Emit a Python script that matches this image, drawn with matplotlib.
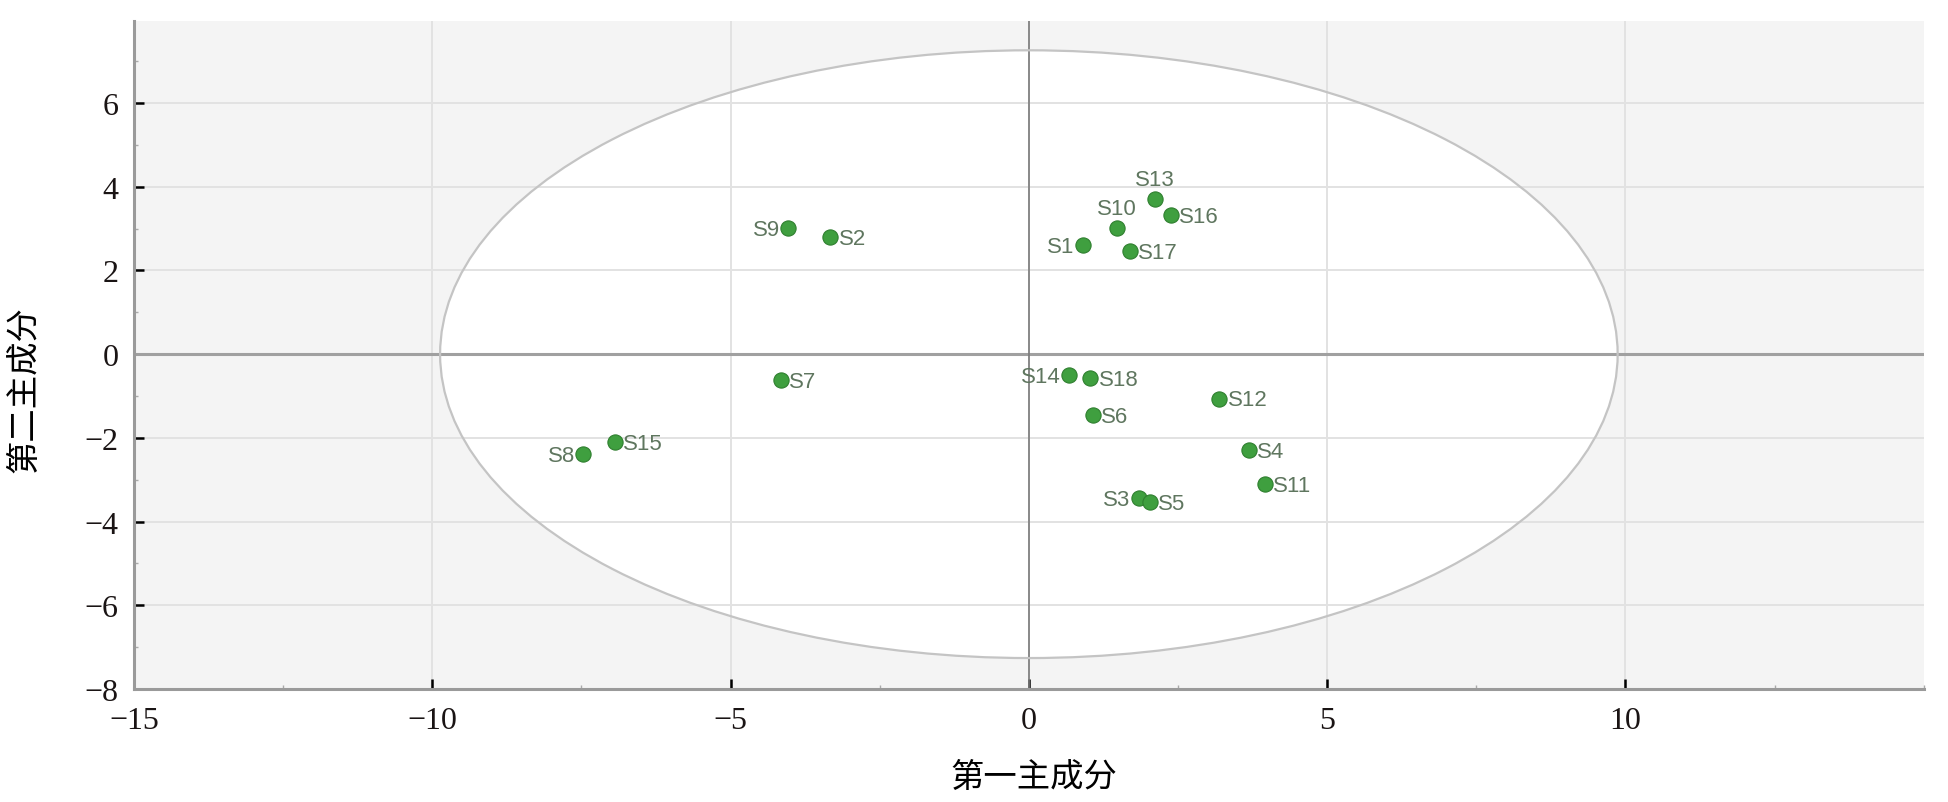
import matplotlib
matplotlib.use('Agg')
import matplotlib.pyplot as plt
from matplotlib.patches import Ellipse
from matplotlib.ticker import MultipleLocator

# sample scores on the first two principal components
names = ["S1", "S2", "S3", "S4", "S5", "S6", "S7", "S8", "S9",
         "S10", "S11", "S12", "S13", "S14", "S15", "S16", "S17", "S18"]
pc1 = [0.91, -3.33, 1.84, 3.69, 2.03, 1.07, -4.16, -7.47, -4.03,
       1.48, 3.95, 3.19, 2.12, 0.67, -6.94, 2.38, 1.69, 1.03]
pc2 = [2.60, 2.80, -3.44, -2.29, -3.54, -1.46, -0.62, -2.38, 3.02,
       3.02, -3.10, -1.06, 3.70, -0.50, -2.10, 3.32, 2.47, -0.56]
# where the name goes relative to the dot
label_side = ["left", "right", "left", "right", "right", "right", "right", "left", "left",
              "top", "right", "right", "top", "left", "right", "right", "right", "right"]

# Hotelling T2 ellipse half axes
ell_a = 9.87
ell_b = 7.26

xlabel = "第一主成分"
ylabel = "第二主成分"

fig = plt.figure(figsize=(19.49, 8.03), dpi=100)
ax = fig.add_axes([0.0688, 0.1407, 0.9182, 0.8319])
ax.set_facecolor("#f4f4f4")
ax.set_axisbelow(True)

ell = Ellipse((0, 0), 2 * ell_a, 2 * ell_b, facecolor="white",
              edgecolor="none", zorder=0.2)
ax.add_patch(ell)
ell_edge = Ellipse((0, 0), 2 * ell_a, 2 * ell_b, facecolor="none",
                   edgecolor="#c4c4c4", lw=1.6, zorder=0.7)
ax.add_patch(ell_edge)

ax.grid(True, which="major", color="#e2e2e2", lw=1.4)
ax.axhline(0, color="#a0a0a0", lw=2.2, zorder=0.6)
ax.axvline(0, color="#7a7a7a", lw=1.2, zorder=0.6)

ax.scatter(pc1, pc2, s=120, color="#3f9f3f", edgecolors="#2f7f2f",
           linewidths=0.8, zorder=3)

for n, x, y, side in zip(names, pc1, pc2, label_side):
    if side == "right":
        off, ha, va = (6, -1), "left", "center"
    elif side == "left":
        off, ha, va = (-6, -1), "right", "center"
    else:
        off, ha, va = (0, 14), "center", "center"
    ax.annotate(n, (x, y), xytext=off, textcoords="offset points",
                ha=ha, va=va, fontsize=16, color="#5f765f",
                family="Liberation Sans", zorder=4)

ax.set_xlim(-15, 15)
ax.set_ylim(-8, 7.96)
ax.set_xticks([-15, -10, -5, 0, 5, 10])
ax.set_yticks([-8, -6, -4, -2, 0, 2, 4, 6])
ax.xaxis.set_minor_locator(MultipleLocator(2.5))
ax.yaxis.set_minor_locator(MultipleLocator(1))

for sp in ["top", "right"]:
    ax.spines[sp].set_visible(False)
for sp in ["left", "bottom"]:
    ax.spines[sp].set_color("#9a9a9a")
    ax.spines[sp].set_linewidth(2.2)

ax.tick_params(which="major", direction="in", length=7, width=1.8,
               color="black", labelsize=23)
ax.tick_params(axis="x", which="major", pad=12)
ax.tick_params(axis="y", which="major", pad=11)
ax.tick_params(which="minor", direction="in", length=3, width=1,
               color="#aaaaaa")
for lab in ax.get_xticklabels() + ax.get_yticklabels():
    lab.set_family("Liberation Serif")
    lab.set_color("#1a1414")

ax.set_xlabel(xlabel, fontsize=24, family=["Noto Sans CJK SC", "DejaVu Sans"])
ax.set_ylabel(ylabel, fontsize=24, family=["Noto Sans CJK SC", "DejaVu Sans"])
ax.xaxis.set_label_coords(0.503, -0.105)
ax.yaxis.set_label_coords(-0.052, 0.45)

plt.savefig("out.png", dpi=100)
